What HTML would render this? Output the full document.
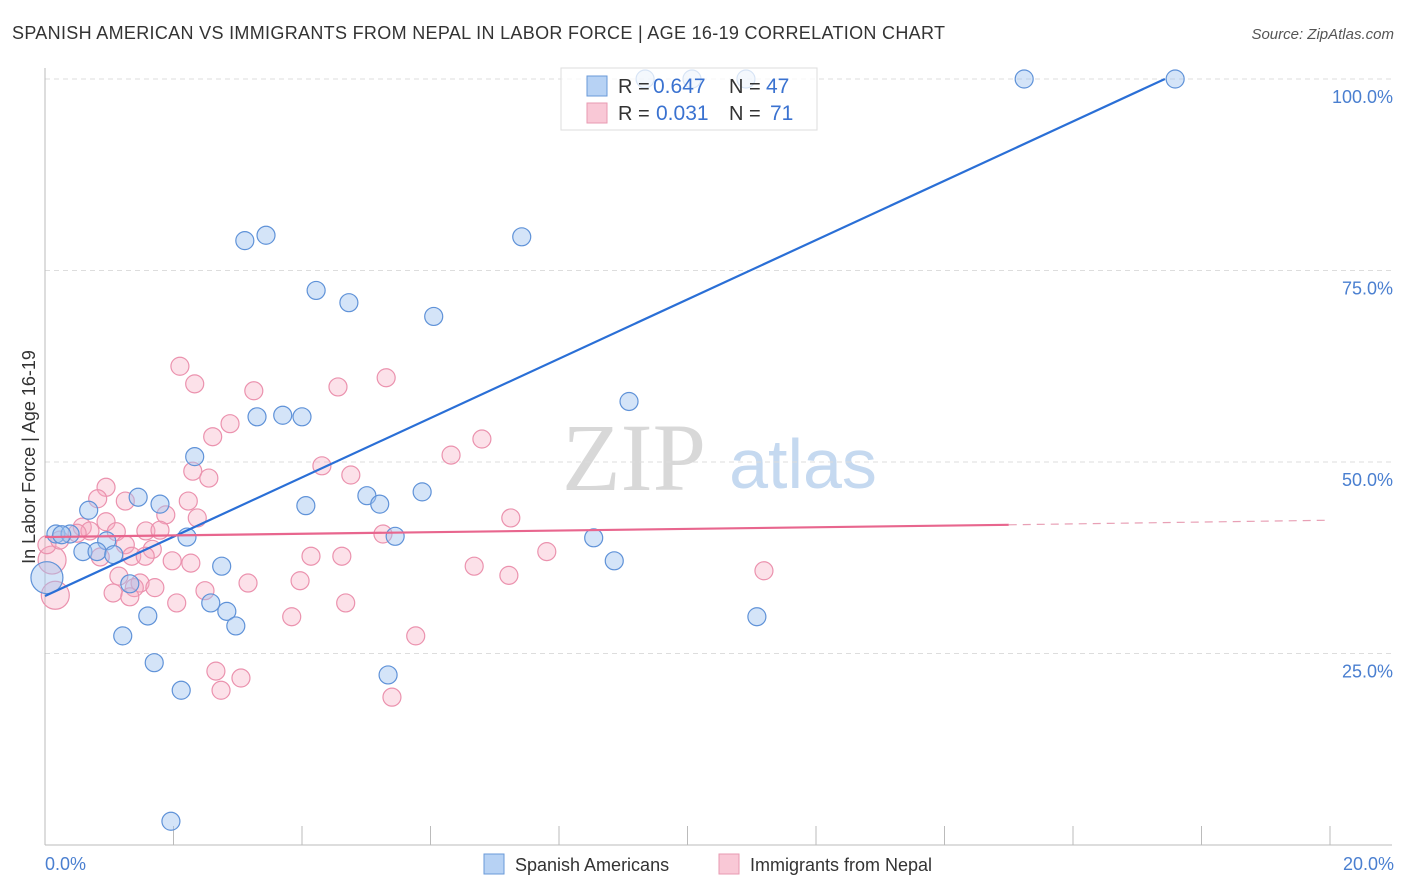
<!DOCTYPE html>
<html><head><meta charset="utf-8"><style>
body{margin:0;background:#fff;font-family:"Liberation Sans",sans-serif;}
#wrap{position:relative;width:1406px;height:892px;overflow:hidden;}
</style></head><body>
<div id="wrap">
<svg id="svg" width="1406" height="892" xmlns="http://www.w3.org/2000/svg">
<text x="12" y="39" font-size="18" fill="#333" textLength="933" lengthAdjust="spacing">SPANISH AMERICAN VS IMMIGRANTS FROM NEPAL IN LABOR FORCE | AGE 16-19 CORRELATION CHART</text>
<text x="1394" y="39" font-size="15" fill="#555" font-style="italic" text-anchor="end">Source: ZipAtlas.com</text>
<text x="634" y="490" font-size="96" fill="#d8d8d8" font-family="Liberation Serif,serif" text-anchor="middle">ZIP</text>
<text x="803" y="488" font-size="70" fill="#c5d9f0" text-anchor="middle">atlas</text>
<g id="grid"></g>
<g id="pts"></g>
<g id="lines"></g>
<text transform="translate(35,457) rotate(-90)" font-size="18" fill="#333" text-anchor="middle">In Labor Force | Age 16-19</text>
<text x="45" y="870" font-size="18" fill="#4a7fd0">0.0%</text>
<text x="1394" y="870" font-size="18" fill="#4a7fd0" text-anchor="end">20.0%</text>
<g>
<rect x="484" y="854" width="20" height="20" fill="#b7d2f4" stroke="#6a9ad8"/>
<text x="515" y="871" font-size="18" fill="#333">Spanish Americans</text>
<rect x="719" y="854" width="20" height="20" fill="#f9c8d6" stroke="#e89ab2"/>
<text x="750" y="871" font-size="18" fill="#333">Immigrants from Nepal</text>
</g>
<g>
<rect x="561" y="68" width="256" height="62" fill="#fff" fill-opacity="0.75" stroke="#ddd"/>
<rect x="587" y="76" width="20" height="20" fill="#b7d2f4" stroke="#6a9ad8"/>
<rect x="587" y="103" width="20" height="20" fill="#f9c8d6" stroke="#e89ab2"/>
<text x="618" y="93" font-size="20" fill="#333">R =</text>
<text x="653" y="93" font-size="21" fill="#3a72d0">0.647</text>
<text x="729" y="93" font-size="20" fill="#333">N =</text>
<text x="766" y="93" font-size="21" fill="#3a72d0">47</text>
<text x="618" y="120" font-size="20" fill="#333">R =</text>
<text x="656" y="120" font-size="21" fill="#3a72d0">0.031</text>
<text x="729" y="120" font-size="20" fill="#333">N =</text>
<text x="770" y="120" font-size="21" fill="#3a72d0">71</text>
</g>
</svg>
</div>
<script>
const blueX=[9.34,10.07,10.91,15.24,17.59,3.11,3.44,7.42,4.22,4.73,6.05,9.09,3.30,3.70,4.00,2.33,1.45,1.79,0.68,4.06,5.01,5.21,5.87,5.45,2.21,0.96,0.59,0.81,1.07,0.17,0.39,0.03,2.75,1.32,8.54,8.86,2.58,2.83,2.97,1.60,1.21,11.08,1.70,2.12,5.34,1.96,0.26];
const blueY=[100,100,100,100,100,78.9,79.6,79.4,72.4,70.8,69.0,57.9,55.9,56.1,55.9,50.7,45.4,44.5,43.7,44.3,45.6,44.5,46.1,40.3,40.2,39.7,38.3,38.3,37.9,40.6,40.6,34.9,36.4,34.1,40.1,37.1,31.6,30.5,28.6,29.9,27.3,29.8,23.8,20.2,22.2,3.1,40.5];
const pinkX=[2.10,2.33,5.31,4.56,3.25,2.88,2.61,6.80,6.32,2.30,4.31,4.76,2.55,0.95,0.82,1.25,2.23,1.88,2.37,7.25,0.95,0.58,0.70,0.50,1.11,1.57,1.79,5.26,1.25,1.67,0.86,1.35,1.56,1.98,2.27,4.14,4.62,7.81,6.68,7.22,11.19,1.15,3.97,3.16,1.48,1.39,1.71,1.06,1.32,2.49,2.05,4.68,3.84,5.77,2.66,3.05,2.74,5.40,0.16,0.11,0.03,0.23];
const pinkY=[62.5,60.2,61.0,59.8,59.3,55.0,53.3,53.0,50.9,48.8,49.5,48.3,47.9,46.7,45.2,44.9,44.9,43.1,42.7,42.7,42.2,41.5,41.0,40.7,40.9,41.0,41.1,40.6,39.2,38.6,37.6,37.7,37.7,37.1,36.8,37.7,37.7,38.3,36.4,35.2,35.8,35.1,34.5,34.2,34.2,33.6,33.6,32.9,32.4,33.2,31.6,31.6,29.8,27.3,22.7,21.8,20.2,19.3,32.6,37.2,39.2,39.8];
const blueTrend=[32.5,100];const blueTrendX=[0,17.43];
const pinkTrend=[40.2,41.8,42.4];const pinkTrendX=[0,15.0,20];
const yTicks=[25,50,75,100];
const xTicks=[0,2,4,6,8,10,12,14,16,18,20];
const X=v=>45+v/20*1285, Y=v=>845-v/100*766;
const NS="http://www.w3.org/2000/svg";
function mk(t,a,p){const e=document.createElementNS(NS,t);for(const k in a)e.setAttribute(k,a[k]);p.appendChild(e);return e;}
const grid=document.getElementById('grid');
yTicks.forEach(t=>{
 const l=mk('line',{x1:45,x2:1392,y1:Y(t),y2:Y(t),stroke:'#ddd','stroke-dasharray':'5,4'},grid);
 
 
 const tx=mk('text',{x:1393,y:Y(t)+24,'font-size':18,fill:'#4a7fd0','text-anchor':'end'},grid);
 tx.textContent=t.toFixed(1)+'%';
 
 
});
const ax=mk('line',{x1:45,x2:45,y1:68,y2:845,stroke:'#bbb'},grid);


const bx=mk('line',{x1:45,x2:1392,y1:845,y2:845,stroke:'#bbb'},grid);


xTicks.forEach(t=>{
 const l=mk('line',{x1:X(t),x2:X(t),y1:826,y2:845,stroke:'#bbb'},grid);
 
 
});
const pts=document.getElementById('pts');
pinkX.forEach((x,i)=>{
 const big=(i>=58&&i<=59);
 const c=mk('circle',{cx:X(x),cy:Y(pinkY[i]),r:big?14:9,fill:'rgba(246,168,192,0.35)',stroke:'#eb92ae','stroke-width':1.2},pts);
 
 
});
blueX.forEach((x,i)=>{
 const c=mk('circle',{cx:X(x),cy:Y(blueY[i]),r:i==31?16:9,fill:'rgba(160,196,240,0.45)',stroke:'#5f92d8','stroke-width':1.2},pts);
 
 
});
const lines=document.getElementById('lines');
const bl=mk('line',{x1:X(blueTrendX[0]),y1:Y(blueTrend[0]),x2:X(blueTrendX[1]),y2:Y(blueTrend[1]),stroke:'#2a6fd6','stroke-width':2.2},lines);


const pl=mk('line',{x1:X(pinkTrendX[0]),y1:Y(pinkTrend[0]),x2:X(pinkTrendX[1]),y2:Y(pinkTrend[1]),stroke:'#e8668e','stroke-width':2.2},lines);


const pd=mk('line',{x1:X(pinkTrendX[1]),y1:Y(pinkTrend[1]),x2:X(pinkTrendX[2]),y2:Y(pinkTrend[2]),stroke:'#e8a0b5','stroke-width':1.2,'stroke-dasharray':'8,6'},lines);


</script>
</body></html>
